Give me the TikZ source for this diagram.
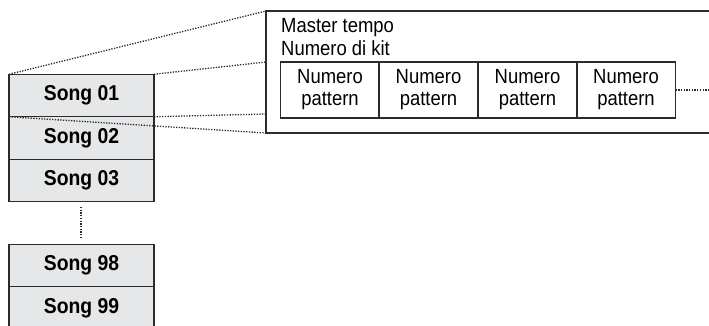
\documentclass[tikz,border=0pt]{standalone}
\usepackage{fontspec}
\setmainfont[FakeStretch=0.9]{Liberation Sans}
\definecolor{songfill}{HTML}{E6E7E8}
\definecolor{edge}{HTML}{2B2B2B}
\begin{document}
\begin{tikzpicture}[x=1pt,y=-1pt,
  songbox/.style={draw=edge,line width=1.2pt,fill=songfill,minimum width=145pt,minimum height=42.5pt,inner sep=0pt,outer sep=0pt,font=\fontsize{21.5}{22}\selectfont\bfseries},
  patbox/.style={draw=edge,line width=1.1pt,minimum width=99pt,minimum height=56pt,inner sep=0pt,outer sep=0pt,align=center,font=\fontsize{20.5}{22}\selectfont},
  lbl/.style={anchor=base west,inner sep=0pt,font=\fontsize{20.5}{22}\selectfont},
  dotline/.style={line width=1.3pt,dash pattern=on 1.3pt off 1.4pt,draw=edge}]
\useasboundingbox (0,0) rectangle (709,325);
\clip (0,0) rectangle (709,325);
% big panel (open at right)
\node[draw=edge,line width=1.2pt,minimum width=460pt,minimum height=122pt,inner sep=0pt,outer sep=0pt,anchor=north west] (main) at (266,11) {};
\node[lbl] (mt) at (281,32) {Master tempo};
\node[lbl] (kit) at (281,55) {Numero di kit};
\node[patbox] (p1) at (330,90) {Numero\\pattern};
\node[patbox] (p2) at (428.5,90) {Numero\\pattern};
\node[patbox] (p3) at (527.5,90) {Numero\\pattern};
\node[patbox] (p4) at (626,90) {Numero\\pattern};
\coordinate (pend) at (709,90);
\draw[dotline] (p4.east) -- (pend);
% songs
\node[songbox] (s1) at (81.5,95.5) {Song 01};
\node[songbox] (s2) at (81.5,138) {Song 02};
\node[songbox] (s3) at (81.5,180.5) {Song 03};
\node[songbox] (s98) at (81.5,265.5) {Song 98};
\node[songbox] (s99) at (81.5,308) {Song 99};
\coordinate (d1) at (81,207);
\coordinate (d2) at (81,239);
\draw[dotline] (d1) -- (d2);
% zoom connectors
\coordinate (m1) at (266,62);
\coordinate (m2) at (266,114);
\draw[dotline] (s1.north west) -- (main.north west);
\draw[dotline] (s1.north east) -- (m1);
\draw[dotline] (s1.south east) -- (m2);
\draw[dotline] (s1.south west) -- (main.south west);
\end{tikzpicture}
\end{document}
